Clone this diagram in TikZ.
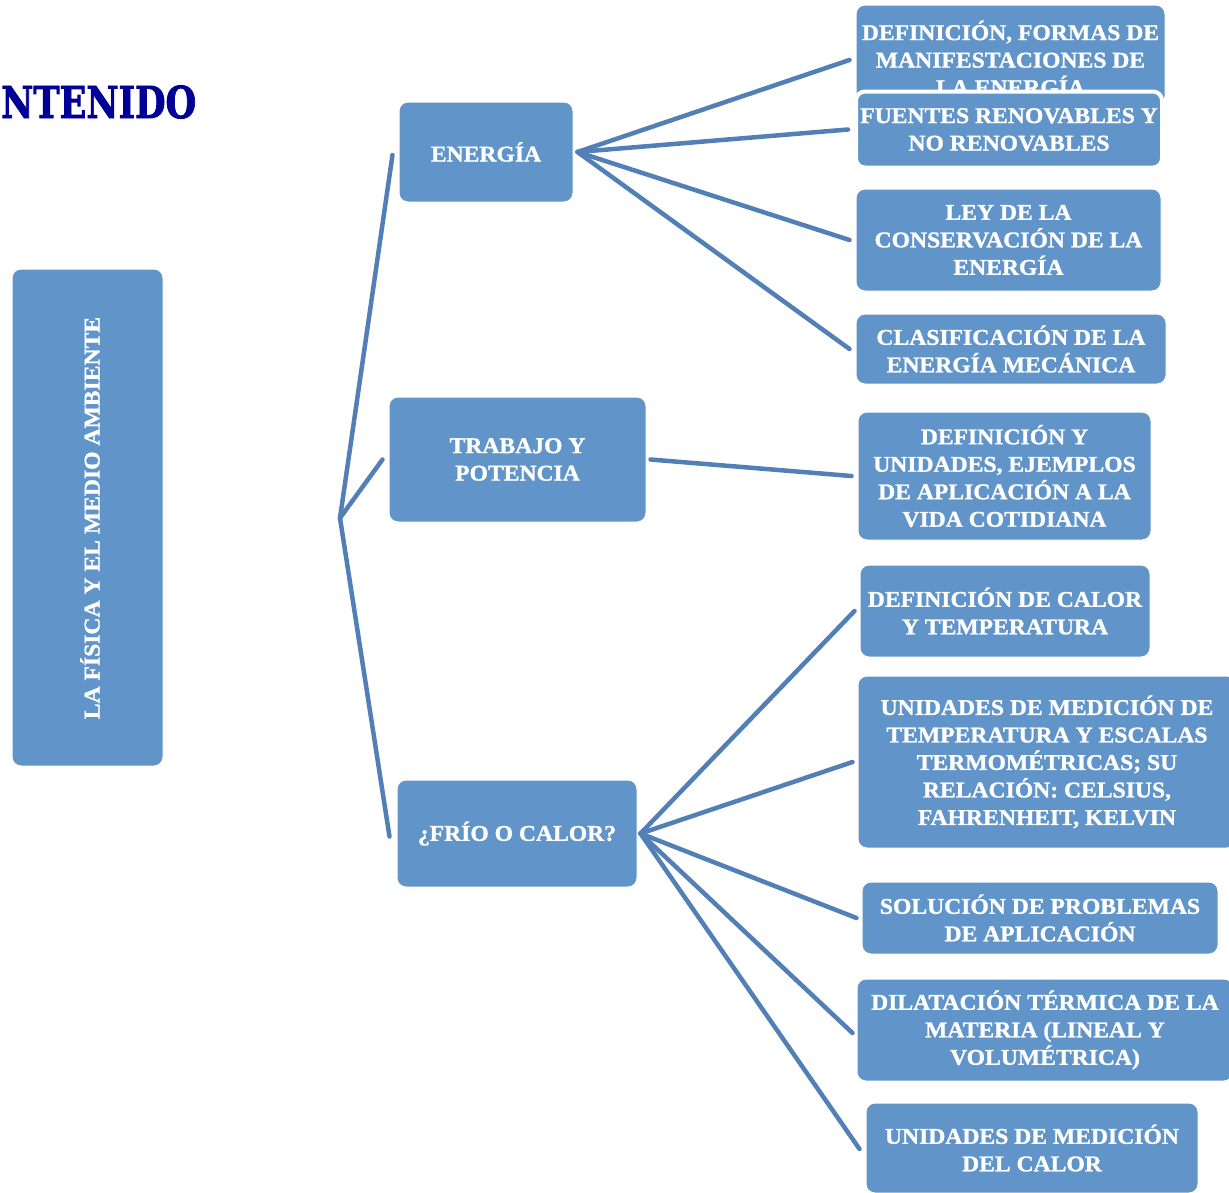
\documentclass[tikz,border=0pt]{standalone}
\usepackage{fontspec}
\setmainfont{Liberation Serif}
\newfontfamily\boxfont[FakeStretch=1.05,FakeBold=1.2]{Liberation Serif}
\newfontfamily\titlefont[FakeBold=2]{DejaVu Serif}
\definecolor{boxblue}{RGB}{97,149,201}
\definecolor{linkblue}{RGB}{82,128,182}
\definecolor{titleblue}{RGB}{0,0,150}
\tikzset{
  boxnode/.style={draw=white, line width=1pt, fill=boxblue, rounded corners=9pt,
    text=white, align=center, inner sep=0pt,
    font=\boxfont\bfseries\fontsize{22.5}{27.5}\selectfont},
  boxlabel/.style={text=white, align=center, inner sep=0pt,
    font=\boxfont\bfseries\fontsize{22.5}{27.5}\selectfont},
  link/.style={draw=linkblue, line width=4.5pt, line cap=round}
}
\begin{document}
\begin{tikzpicture}[x=1pt,y=-1pt]
\useasboundingbox (0,0) rectangle (1229,1192);
\begin{scope}
\clip (0,0) rectangle (1229,1192);
% title
\node[anchor=west, inner sep=0pt, text=titleblue, font=\titlefont\bfseries\fontsize{44}{44}\selectfont] (title) at (1,102) {\scalebox{0.8}[1]{NTENIDO}};
% main box
\node[boxnode, minimum width=151pt, minimum height=497pt] (main) at (87.5,517.5) {};
\node[boxlabel, rotate=90] (maintext) at (90,518) {LA FÍSICA Y EL MEDIO AMBIENTE};
% level 1
\node[boxnode, minimum width=174pt, minimum height=100pt] (en) at (486,152) {ENERGÍA};
\node[boxnode, minimum width=257pt, minimum height=125pt] (tp) at (517.5,459.5) {TRABAJO Y\\POTENCIA};
\node[boxnode, minimum width=240pt, minimum height=107pt] (fc) at (517,833.5) {¿FRÍO O CALOR?};
% level 2
\node[boxnode, minimum width=309pt, minimum height=100pt] (b5) at (1010.5,55) {};
\node[boxlabel] (b5t) at (1010.5,58) {DEFINICIÓN, FORMAS DE\\MANIFESTACIONES DE\\LA ENERGÍA};
\node[boxnode, draw=white, line width=4pt, minimum width=306pt, minimum height=76pt] (b6) at (1009,129.5) {FUENTES RENOVABLES Y\\NO RENOVABLES};
\node[boxnode, minimum width=305pt, minimum height=102pt] (b7) at (1008.5,240) {LEY DE LA\\CONSERVACIÓN DE LA\\ENERGÍA};
\node[boxnode, minimum width=310pt, minimum height=70pt] (b8) at (1011,349) {CLASIFICACIÓN DE LA\\ENERGÍA MECÁNICA};
\node[boxnode, minimum width=293pt, minimum height=128pt] (b9) at (1004.5,476) {DEFINICIÓN Y\\UNIDADES, EJEMPLOS\\DE APLICACIÓN A LA\\VIDA COTIDIANA};
\node[boxnode, minimum width=290pt, minimum height=92pt] (b10) at (1005,611) {DEFINICIÓN DE CALOR\\Y TEMPERATURA};
\node[boxnode, minimum width=378pt, minimum height=172pt] (b11) at (1047,762) {UNIDADES DE MEDICIÓN DE\\TEMPERATURA Y ESCALAS\\TERMOMÉTRICAS; SU\\RELACIÓN: CELSIUS,\\FAHRENHEIT, KELVIN};
\node[boxnode, minimum width=356pt, minimum height=72pt] (b12) at (1040,918) {SOLUCIÓN DE PROBLEMAS\\DE APLICACIÓN};
\node[boxnode, minimum width=376pt, minimum height=102pt] (b13) at (1045,1030) {DILATACIÓN TÉRMICA DE LA\\MATERIA (LINEAL Y\\VOLUMÉTRICA)};
\node[boxnode, minimum width=332pt, minimum height=90pt] (b14) at (1032,1148) {UNIDADES DE MEDICIÓN\\DEL CALOR};
% hubs
\coordinate (hub) at (340,518);
\coordinate (enr) at ([xshift=4pt]en.east);
\coordinate (tpr) at ([xshift=4pt]tp.east);
\coordinate (fcr) at ([xshift=3pt]fc.east);
% connectors
\draw[link] (hub) -- ([xshift=-6pt,yshift=-3pt]en.west);
\draw[link] (hub) -- ([xshift=-6pt]tp.west);
\draw[link] (hub) -- ([xshift=-7pt,yshift=-3pt]fc.west);
\draw[link] (enr) -- ([xshift=-6pt,yshift=-5pt]b5.west);
\draw[link] (enr) -- ([xshift=-6pt]b6.west);
\draw[link] (enr) -- ([xshift=-6pt]b7.west);
\draw[link] (enr) -- ([xshift=-6pt]b8.west);
\draw[link] (tpr) -- ([xshift=-6pt]b9.west);
\draw[link] (fcr) -- ([xshift=-5pt]b10.west);
\draw[link] (fcr) -- ([xshift=-5pt]b11.west);
\draw[link] (fcr) -- ([xshift=-5pt]b12.west);
\draw[link] (fcr) -- ([xshift=-4pt,yshift=-3pt]b13.west);
\draw[link] (fcr) -- ([xshift=-6pt,yshift=-1pt]b14.west);
\end{scope}
\end{tikzpicture}
\end{document}
